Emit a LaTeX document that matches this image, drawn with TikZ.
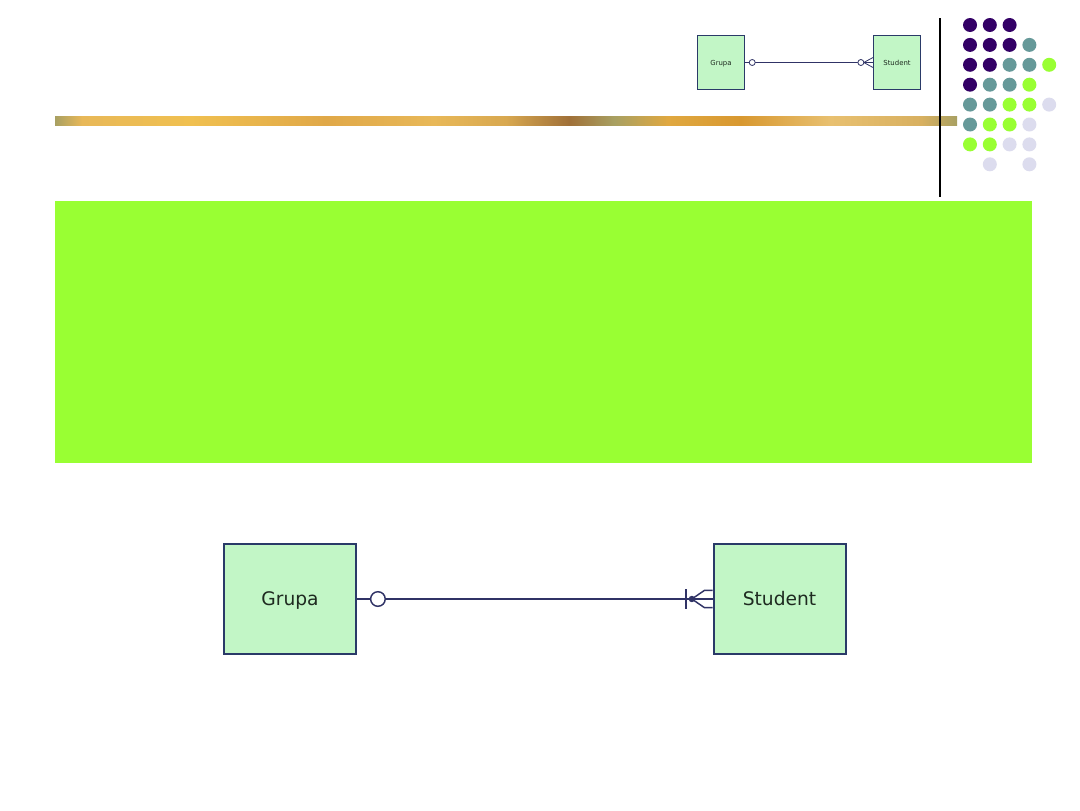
\documentclass[tikz,border=0pt]{standalone}
\usepackage{fontspec}
\setmainfont{DejaVu Sans}
\definecolor{olv}{HTML}{A8A062}
\definecolor{gA}{HTML}{E8B858}
\definecolor{gB}{HTML}{F0C050}
\definecolor{gC}{HTML}{E0A848}
\definecolor{gD}{HTML}{D8A850}
\definecolor{brn}{HTML}{A07038}
\definecolor{gE}{HTML}{E0A840}
\definecolor{gF}{HTML}{D89830}
\definecolor{gG}{HTML}{E8C070}
\definecolor{gH}{HTML}{D8B060}
\definecolor{lime}{HTML}{99FF33}
\definecolor{dpurple}{HTML}{330066}
\definecolor{dteal}{HTML}{669999}
\definecolor{lav}{HTML}{DCDCEE}
\definecolor{boxfill}{HTML}{C2F6C6}
\definecolor{boxline}{HTML}{2A3A68}
\definecolor{relline}{HTML}{303366}
\definecolor{txt}{HTML}{1E2A20}
\pgfdeclarehorizontalshading{goldbar}{100bp}{color(0bp)=(olv); color(25bp)=(olv); color(26.5bp)=(gA); color(32.5bp)=(gB); color(40bp)=(gC); color(46bp)=(gA); color(50bp)=(gD); color(53.5bp)=(brn); color(56bp)=(olv); color(59bp)=(gE); color(63bp)=(gF); color(68bp)=(gG); color(73bp)=(gH); color(75bp)=(olv); color(100bp)=(olv)}
\tikzset{
  entity/.style={draw=boxline, fill=boxfill, inner sep=0pt, text=txt},
  bigent/.style={entity, line width=1.5pt, minimum width=99pt, minimum height=83pt, text height=10.2pt, text depth=0pt, font=\fontsize{14}{16}\selectfont},
  smallent/.style={entity, line width=0.7pt, minimum width=35.5pt, minimum height=40.5pt, text height=3.8pt, text depth=0pt, font=\fontsize{5.2}{6}\selectfont},
  rel/.style={draw=relline, line width=1.1pt},
  relsmall/.style={draw=relline, line width=0.6pt},
  dotP/.style={fill=dpurple}, dotT/.style={fill=dteal}, dotG/.style={fill=lime}, dotL/.style={fill=lav}
}
\begin{document}
\begin{tikzpicture}[x=0.75pt,y=-0.75pt]
\useasboundingbox[fill=white] (0,0) rectangle (1080,810);
% header bar
\shade[shading=goldbar] (55,116) rectangle (957,125);
\draw[black, line width=0.9pt] (940,18) -- (940,197);
% dots
\foreach \c/\r/\s in {0/0/P,1/0/P,2/0/P,
  0/1/P,1/1/P,2/1/P,3/1/T,
  0/2/P,1/2/P,2/2/T,3/2/T,4/2/G,
  0/3/P,1/3/T,2/3/T,3/3/G,
  0/4/T,1/4/T,2/4/G,3/4/G,4/4/L,
  0/5/T,1/5/G,2/5/G,3/5/L,
  0/6/G,1/6/G,2/6/L,3/6/L,
  1/7/L,3/7/L}
  \fill[dot\s] ({970+19.8*\c},{25+19.9*\r}) circle[radius=7];
% green panel
\fill[lime] (55,201) rectangle (1032,463);
% small diagram
\node[smallent] (sg) at (721,62.5) {Grupa};
\node[smallent] (ss) at (897,62.5) {Student};
\coordinate (sfoot) at ([xshift=-6.8pt]ss.west);
\draw[relsmall] (sg.east) -- (sfoot);
\draw[relsmall] (sfoot) -- (ss.west);
\draw[relsmall] (sfoot) -- ([yshift=3.7pt]ss.west);
\draw[relsmall] (sfoot) -- ([yshift=-3.7pt]ss.west);
\draw[relsmall, fill=white] ([xshift=5.3pt]sg.east) circle[radius=3];
\draw[relsmall, fill=white] ([xshift=-9pt]ss.west) circle[radius=3];
% big diagram
\node[bigent] (g) at (290,599) {Grupa};
\node[bigent] (s) at (779.5,599) {Student};
\coordinate (foot) at ([xshift=-15.5pt]s.west);
\draw[rel] (g.east) -- (s.west);
\draw[rel] (foot) -- ([xshift=-6pt,yshift=6.5pt]s.west) -- ([yshift=6.5pt]s.west);
\draw[rel] (foot) -- ([xshift=-6pt,yshift=-6.5pt]s.west) -- ([yshift=-6.5pt]s.west);
\fill[relline] (foot) circle[radius=3.2];
\draw[rel] ([xshift=-20pt,yshift=7.5pt]s.west) -- ([xshift=-20pt,yshift=-7.5pt]s.west);
\draw[rel, fill=white] ([xshift=15.7pt]g.east) circle[radius=7.3];
\end{tikzpicture}
\end{document}
